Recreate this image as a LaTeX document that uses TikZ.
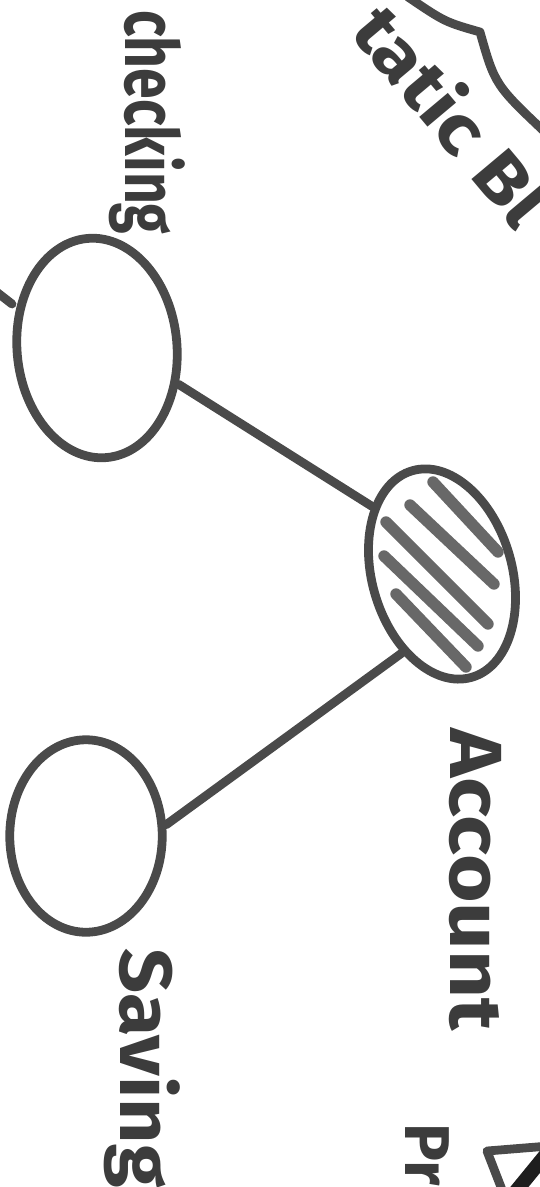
\documentclass[tikz,border=0pt]{standalone}
\usepackage{graphicx}
\usepackage{fontspec}
\setmainfont{Fira Sans}
\usetikzlibrary{shapes.geometric}
\definecolor{inkLine}{HTML}{4A4A4A}
\definecolor{inkHatch}{HTML}{686868}
\definecolor{inkText}{HTML}{3C3C3C}
\definecolor{inkDark}{HTML}{1E1E1E}

\begin{document}
\begin{tikzpicture}[
  x=0.02cm, y=-0.02cm,
  line cap=round, line join=round,
  entity/.style  ={ellipse, draw=inkLine, line width=5pt, inner sep=0pt},
  hatch/.style   ={draw=inkHatch, line width=6.5pt},
  link/.style    ={draw=inkLine, line width=5pt},
  handfont/.style={font=\fontsize{42}{42}\selectfont\bfseries, text=inkText,
                   inner sep=0pt, anchor=base west},
  hand/.style    ={handfont, rotate=-90},
]
\useasboundingbox (0,0) rectangle (540,1187);
\clip (0,0) rectangle (540,1187);

% ----- Entities -----
\node[entity, minimum width=3.2cm, minimum height=4.4cm, rotate=5] (checking) at (97,348) {};
\node[entity, minimum width=2.8cm, minimum height=4.3cm, rotate=16] (account) at (442,574) {};
\node[entity, minimum width=3.05cm, minimum height=3.85cm] (saving) at (86,836) {};

% ----- Hatching of the account -----
\foreach \ax/\ay/\bx/\by in {433/482/498/552, 410/505/494/584, 386/522/488/624,
                             384/556/478/646, 396/594/466/667}
  \draw[hatch] (\ax,\ay) -- (\bx,\by);

% ----- Links -----
\draw[link] (checking.331) -- (account.120);
\draw[link] (account.227) -- (saving.8);

% ----- Labels -----
\node[hand] (checkingLbl) at (125,10) {\scalebox{0.75}[1]{checking}};
\node[hand] (accountLbl) at (450,728) {\scalebox{1.13}[1]{Account}};
\node[hand] (savingLbl) at (120,948) {\scalebox{1.07}[1]{Saving}};
\node[hand, font=\fontsize{36}{36}\selectfont\bfseries] (primLbl) at (405,1123) {Pr};
\node[handfont, rotate=-50, font=\fontsize{40}{40}\selectfont\bfseries] (staticLbl) at (348,32)
  {\scalebox{1.15}[1]{tatic Bl}};

% ----- Cut-off strokes at the edges -----
\draw[link] (408,-3) .. controls (445,22) .. (480,32) .. controls (495,85) .. (548,135);
\draw[link] (-6,290) -- (12,304);
\draw[link] (549,1146) -- (487,1151) -- (506,1200);
\draw[draw=inkDark, line width=8pt] (548,1152) -- (512,1196);

\end{tikzpicture}
\end{document}
